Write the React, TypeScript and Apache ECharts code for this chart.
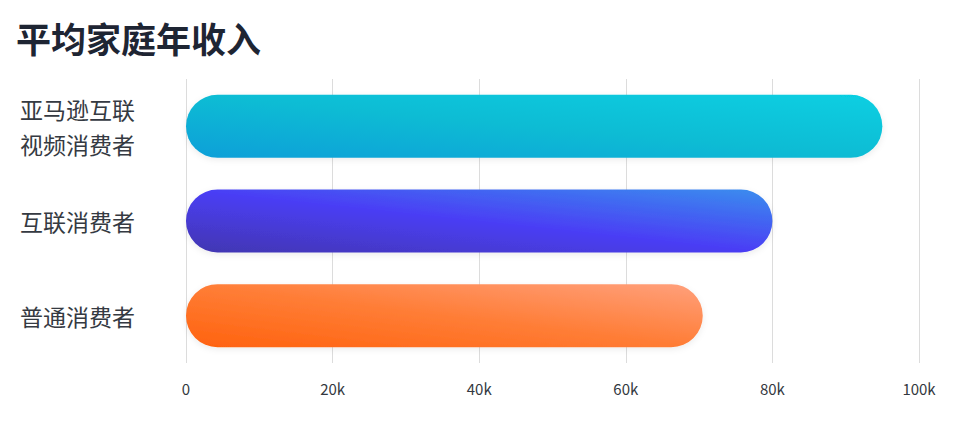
import React, { useEffect, useRef } from "react";
import * as echarts from "echarts";

const title = "平均家庭年收入";
const categories = ["亚马逊互联\n视频消费者", "互联消费者", "普通消费者"];
const values = [95000, 80000, 70500];
const xTicks = [0, 20000, 40000, 60000, 80000, 100000];
const gradients = [
  ["#0e9fd8", "#10bcd4", "#06cfe2"],
  ["#4236b0", "#4a3ef5", "#3a8eee"],
  ["#ff620e", "#ff7d36", "#ffa07c"],
];

export default function App() {
  const ref = useRef<HTMLDivElement>(null);
  useEffect(() => {
    const chart = echarts.init(ref.current!, null, { renderer: "svg" });
    const font = '"Noto Sans CJK SC", "Noto Sans", sans-serif';
    chart.setOption({
      animation: false,
      backgroundColor: "#ffffff",
      title: {
        text: title,
        left: 3,
        top: 7,
        textStyle: { fontFamily: font, fontSize: 35, fontWeight: "bold", color: "#1e2533" },
      },
      grid: { left: 178, right: 37, top: 71, bottom: 65, containLabel: false },
      xAxis: {
        type: "value",
        min: 0,
        max: xTicks[xTicks.length - 1],
        interval: 20000,
        axisLine: { show: false },
        axisTick: { show: false },
        splitLine: { show: true, lineStyle: { color: "#dcdcdc", width: 1 } },
        axisLabel: {
          fontFamily: font,
          fontSize: 15,
          color: "#333840",
          margin: 18,
          formatter: (v: number) => (v === 0 ? "0" : v / 1000 + "k"),
        },
      },
      yAxis: {
        type: "category",
        data: categories,
        inverse: true,
        axisLine: { show: false },
        axisTick: { show: false },
        splitLine: { show: false },
        axisLabel: {
          fontFamily: font,
          fontSize: 23,
          lineHeight: 35,
          color: "#353a42",
          align: "left",
          margin: 166,
          padding: [20, 0, 0, 0],
        },
      },
      series: [
        {
          type: "bar",
          barWidth: 63,
          data: values.map((v, i) => ({
            value: v,
            itemStyle: {
              borderRadius: 31.5,
              shadowBlur: 6,
              shadowOffsetY: 2,
              shadowColor: "rgba(0,0,0,0.08)",
              color: new echarts.graphic.LinearGradient(0, 1, 1, 0, [
                { offset: 0, color: gradients[i][0] },
                { offset: 0.5, color: gradients[i][1] },
                { offset: 1, color: gradients[i][2] },
              ]),
            },
          })),
        },
      ],
    });
    return () => chart.dispose();
  }, []);
  return <div ref={ref} style={{ width: 948, height: 420 }} />;
}
